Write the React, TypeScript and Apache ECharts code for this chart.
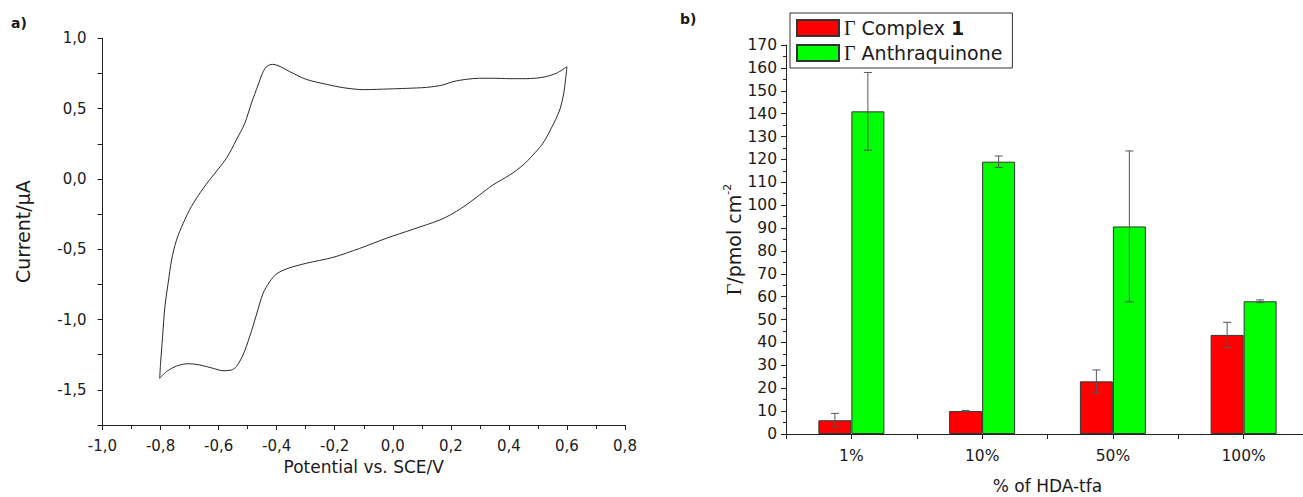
import React, { useEffect, useRef } from 'react';
import * as echarts from 'echarts';

// ---- Panel a) cyclic voltammogram (potential V vs SCE, current µA) ----
const cvPotential = [
  0.6, 0.563, 0.517, 0.46, 0.403, 0.345, 0.299, 0.253, 0.2075, 0.173, 0.116, 0.047, -0.011, -0.102,
  -0.171, -0.229, -0.298, -0.355, -0.395, -0.415, -0.435, -0.449, -0.464, -0.487, -0.51, -0.539,
  -0.573, -0.613, -0.653, -0.694, -0.722, -0.745, -0.762, -0.774, -0.785, -0.793, -0.8, -0.803,
  -0.78, -0.745, -0.705, -0.665, -0.619, -0.585, -0.556, -0.539, -0.516, -0.493, -0.47, -0.447,
  -0.424, -0.401, -0.361, -0.298, -0.206, -0.114, -0.022, 0.07, 0.162, 0.2075, 0.253, 0.299, 0.345,
  0.403, 0.449, 0.483, 0.517, 0.546, 0.575, 0.589, 0.595, 0.6,
];
const cvCurrent = [
  0.798, 0.751, 0.723, 0.713, 0.713, 0.716, 0.716, 0.708, 0.692, 0.668, 0.651, 0.644, 0.64, 0.635,
  0.649, 0.673, 0.708, 0.763, 0.806, 0.815, 0.798, 0.751, 0.668, 0.538, 0.395, 0.277,
  0.147, 0.04, -0.067, -0.197, -0.316, -0.434, -0.577, -0.743, -0.908, -1.122, -1.312, -1.418,
  -1.371, -1.331, -1.314, -1.323, -1.347, -1.364, -1.359, -1.335, -1.252, -1.122, -0.968, -0.814,
  -0.731, -0.676, -0.636, -0.6, -0.558, -0.494, -0.422, -0.358, -0.292, -0.245, -0.185, -0.114, -0.043,
  0.028, 0.099, 0.17, 0.253, 0.36, 0.49, 0.609, 0.704, 0.798,
];

// ---- Panel b) surface coverage bars ----
const categories = ['1%', '10%', '50%', '100%'];
const complexValues = [6, 10, 23, 43.3];
const complexErrors = [3, 0.3, 5, 5.5];
const anthraValues = [141, 119, 90.7, 58];
const anthraErrors = [17, 2.5, 33, 0.6];

const FONT = 'DejaVu Sans';
const SERIF = 'Liberation Serif';
const TXT = '#1a1a1a';
const AX = '#222';
const BAR_W = 33;

function fmtComma(v: number): string {
  if (Math.abs(v) < 1e-9) v = 0;
  return v.toFixed(1).replace('.', ',');
}

function errorSeries(values: number[], errors: number[], side: number) {
  return {
    type: 'custom',
    xAxisIndex: 1,
    yAxisIndex: 1,
    z: 10,
    silent: true,
    data: values.map((v, i) => [i, v, errors[i], side]),
    renderItem: (params: any, api: any) => {
      const i = api.value(0);
      const v = api.value(1);
      const e = api.value(2);
      const s = api.value(3);
      const top = api.coord([i, v + e]);
      const bot = api.coord([i, v - e]);
      const x = top[0] + (s * BAR_W) / 2;
      const st = { stroke: '#555', lineWidth: 1 };
      return {
        type: 'group',
        children: [
          { type: 'line', shape: { x1: x, y1: top[1], x2: x, y2: bot[1] }, style: st },
          { type: 'line', shape: { x1: x - 4, y1: top[1], x2: x + 4, y2: top[1] }, style: st },
          { type: 'line', shape: { x1: x - 4, y1: bot[1], x2: x + 4, y2: bot[1] }, style: st },
        ],
      };
    },
  };
}

export default function App() {
  const ref = useRef<HTMLDivElement>(null);

  useEffect(() => {
    const chart = echarts.init(ref.current!, null, { renderer: 'svg' });
    const cvData = cvPotential.map((x, i) => [x, cvCurrent[i]]);
    const axisLine = { show: true, onZero: false, lineStyle: { color: AX, width: 1 } };

    const option: any = {
      animation: false,
      backgroundColor: '#fff',
      graphic: [
        { type: 'text', left: 11, top: 16, style: { text: 'a)', font: `bold 14px "${FONT}"`, fill: TXT } },
        { type: 'text', left: 680, top: 12, style: { text: 'b)', font: `bold 14px "${FONT}"`, fill: TXT } },
      ],
      grid: [
        { left: 102.5, top: 38.3, width: 522.5, height: 386.7, outerBoundsMode: 'none', containLabel: false },
        { left: 786, top: 45, width: 523, height: 389, outerBoundsMode: 'none', containLabel: false },
      ],
      legend: {
        orient: 'vertical',
        left: 790,
        top: 13,
        padding: [5, 10, 5, 6],
        itemGap: 5,
        itemWidth: 42,
        itemHeight: 16,
        icon: 'rect',
        borderColor: '#333',
        borderWidth: 1,
        borderRadius: 0,
        backgroundColor: '#fff',
        selectedMode: false,
        data: ['Γ Complex 1', 'Γ Anthraquinone'],
        formatter: (name: string) =>
          name === 'Γ Complex 1' ? '{g|Γ} Complex {b|1}' : '{g|Γ} Anthraquinone',
        textStyle: {
          fontFamily: FONT,
          fontSize: 19,
          color: TXT,
          lineHeight: 20,
          rich: {
            g: { fontFamily: SERIF, fontSize: 20, color: TXT, lineHeight: 20 },
            b: { fontFamily: FONT, fontSize: 19, fontWeight: 'bold', color: TXT, lineHeight: 20 },
          },
        },
      },
      xAxis: [
        {
          type: 'value',
          gridIndex: 0,
          min: -1.0,
          max: 0.8,
          interval: 0.2,
          axisLine,
          axisTick: { show: true, length: 5, lineStyle: { color: AX } },
          minorTick: { show: true, splitNumber: 2, length: 4, lineStyle: { color: AX } },
          splitLine: { show: false },
          minorSplitLine: { show: false },
          axisLabel: {
            formatter: (v: number) => fmtComma(v),
            fontFamily: FONT,
            fontSize: 15,
            color: TXT,
            margin: 13,
          },
          name: 'Potential vs. SCE/V',
          nameLocation: 'middle',
          nameGap: 33,
          nameTextStyle: { fontFamily: FONT, fontSize: 17, color: TXT },
        },
        {
          type: 'category',
          gridIndex: 1,
          data: categories,
          position: 'bottom',
          axisLine,
          axisTick: { show: true, length: 5, lineStyle: { color: AX } },
          splitLine: { show: false },
          axisLabel: { fontFamily: FONT, fontSize: 15.5, color: TXT, margin: 14, interval: 0 },
          name: '% of HDA-tfa',
          nameLocation: 'middle',
          nameGap: 43,
          nameTextStyle: { fontFamily: FONT, fontSize: 17, color: TXT },
        },
        {
          type: 'category',
          gridIndex: 1,
          data: categories,
          position: 'bottom',
          offset: 0,
          axisLine: { show: false, onZero: false },
          axisTick: { show: true, alignWithLabel: true, length: 5, lineStyle: { color: AX } },
          axisLabel: { show: false },
          splitLine: { show: false },
        },
      ],
      yAxis: [
        {
          type: 'value',
          gridIndex: 0,
          min: -1.75,
          max: 1.0,
          interval: 0.25,
          axisLine,
          axisTick: { show: true, length: 5, lineStyle: { color: AX } },
          splitLine: { show: false },
          axisLabel: {
            formatter: (v: number) => (Math.round(v * 4) % 2 === 0 ? fmtComma(v) : ''),
            fontFamily: FONT,
            fontSize: 15,
            color: TXT,
            margin: 16,
          },
          name: 'Current/μA',
          nameLocation: 'middle',
          nameGap: 70,
          nameTextStyle: { fontFamily: FONT, fontSize: 19, color: TXT },
        },
        {
          type: 'value',
          gridIndex: 1,
          min: 0,
          max: 170,
          interval: 10,
          axisLine,
          axisTick: { show: true, length: 5, lineStyle: { color: AX } },
          minorTick: { show: true, splitNumber: 2, length: 3, lineStyle: { color: AX } },
          splitLine: { show: false },
          minorSplitLine: { show: false },
          axisLabel: { fontFamily: FONT, fontSize: 15.5, color: TXT, margin: 9 },
          name: '{g|Γ}/pmol cm{s|-2}',
          nameLocation: 'middle',
          nameGap: 35,
          nameTextStyle: {
            fontFamily: FONT,
            fontSize: 19,
            color: TXT,
            rich: {
              g: { fontFamily: SERIF, fontSize: 20, color: TXT },
              s: { fontFamily: FONT, fontSize: 11, color: TXT, padding: [0, 0, 12, 0] },
            },
          },
        },
      ],
      series: [
        {
          type: 'line',
          xAxisIndex: 0,
          yAxisIndex: 0,
          data: cvData,
          showSymbol: false,
          smooth: 0.3,
          lineStyle: { color: '#2a2a2a', width: 1 },
          itemStyle: { color: '#2a2a2a' },
          silent: true,
        },
        {
          name: 'Γ Complex 1',
          type: 'bar',
          xAxisIndex: 1,
          yAxisIndex: 1,
          data: complexValues,
          barWidth: BAR_W,
          barGap: '0%',
          itemStyle: { color: '#ff0000', borderColor: '#333', borderWidth: 1 },
        },
        {
          name: 'Γ Anthraquinone',
          type: 'bar',
          xAxisIndex: 1,
          yAxisIndex: 1,
          data: anthraValues,
          barWidth: BAR_W,
          barGap: '0%',
          itemStyle: { color: '#00ff00', borderColor: '#333', borderWidth: 1 },
        },
        errorSeries(complexValues, complexErrors, -1),
        errorSeries(anthraValues, anthraErrors, 1),
      ],
    };

    chart.setOption(option);
    return () => chart.dispose();
  }, []);

  return (
    <div
      ref={ref}
      style={{ position: 'absolute', left: 0, top: 0, width: 1303, height: 497, background: '#fff' }}
    />
  );
}
